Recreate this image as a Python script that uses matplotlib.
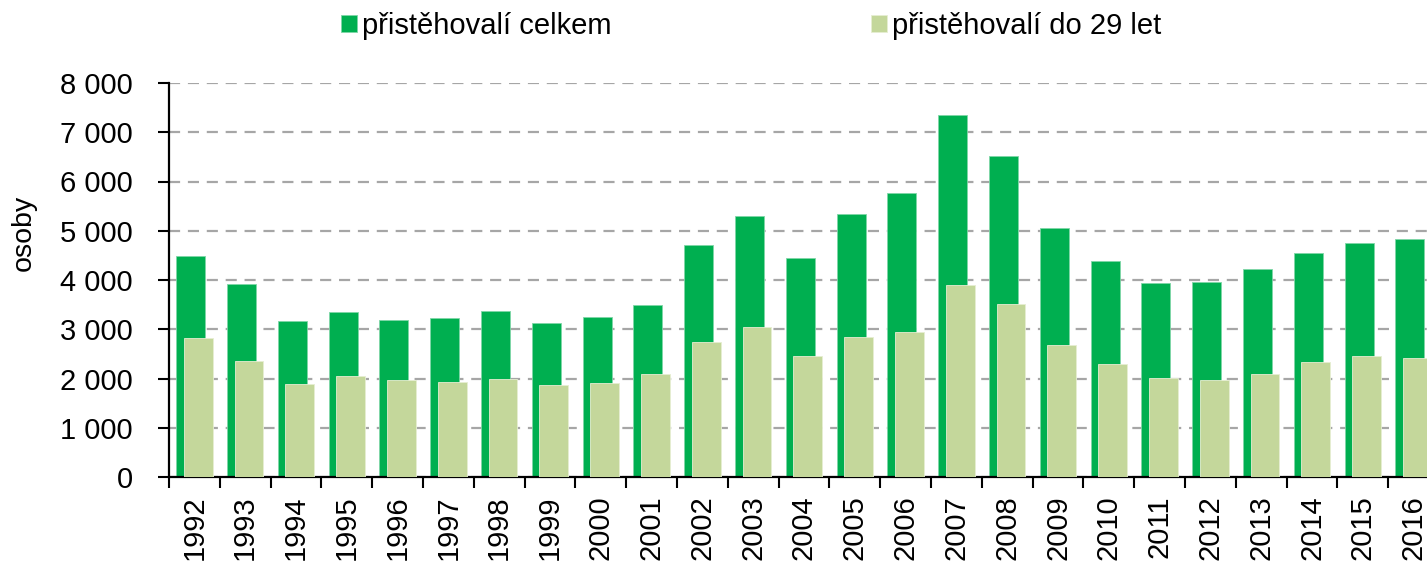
import numpy as np
import matplotlib
matplotlib.use("Agg")
import matplotlib.pyplot as plt
from matplotlib.ticker import FuncFormatter

# data
years = [str(y) for y in range(1992, 2017)]
celkem = [4480, 3915, 3170, 3360, 3190, 3220, 3375, 3130, 3255, 3500,
          4720, 5295, 4440, 5345, 5775, 7345, 6525, 5060,
          4390, 3935, 3950, 4225, 4545, 4760, 4830]
do29 = [2830, 2360, 1880, 2055, 1960, 1920, 2000, 1865, 1915, 2085,
        2745, 3050, 2455, 2850, 2935, 3890, 3510, 2690,
        2300, 2020, 1970, 2095, 2335, 2450, 2420]

labels = ["přistěhovalí celkem", "přistěhovalí do 29 let"]
dark = "#00AF50"
light = "#C4D79B"

plt.rcParams['font.family'] = ['Liberation Sans', 'DejaVu Sans']
fs = 21

fig = plt.figure(figsize=(14.27, 5.62), dpi=100)
ax = fig.add_axes([169 / 1427, 1 - 477 / 562, 1 - 169 / 1427, (477 - 83) / 562])

x = np.arange(len(years))
w = 0.57
b1 = ax.bar(x - 0.073, celkem, w, color=dark, edgecolor="#7fd7a7", linewidth=0.6, zorder=2, label=labels[0])
b2 = ax.bar(x + 0.075, do29, w, color=light, edgecolor="#e6eed2", linewidth=0.6, zorder=3, label=labels[1])

ax.set_yticks(range(0, 8001, 1000))
ax.yaxis.set_major_formatter(FuncFormatter(lambda v, p: f"{int(v):,}".replace(",", " ")))
ax.yaxis.grid(True, color="#A6A6A6", linestyle=(0, (5, 3.5)), linewidth=1.6, zorder=0)
ax.set_axisbelow(True)

# ticks between categories, labels in the middle
ax.set_xticks(np.arange(-0.5, len(years), 1), minor=False)
ax.set_xticklabels([])
ax.set_xticks(x, minor=True)
ax.set_xticklabels(years, minor=True, rotation=90, fontsize=fs)
ax.tick_params(axis="x", which="minor", length=0, pad=13)
ax.tick_params(axis="x", which="major", length=8, width=1.5, direction="out")
ax.tick_params(axis="y", length=8, width=1.5, labelsize=fs, pad=18)

# last category is cut by the right edge in the original
ax.set_ylim(0, 8000)
ax.set_xlim(-0.5, len(years) - 0.5 - 12 / 50.8)

for s in ["top", "right"]:
    ax.spines[s].set_visible(False)
for s in ["left", "bottom"]:
    ax.spines[s].set_linewidth(1.6)

ax.set_ylabel("osoby", fontsize=20.5)
ax.yaxis.set_label_coords(-0.105, 0.62)

fig.legend(handles=[b1, b2], labels=labels, loc="center left", bbox_to_anchor=(341 / 1427, 1 - 26 / 562),
           ncol=2, frameon=False, fontsize=21, handlelength=0.55, handleheight=0.55,
           handletextpad=0.17, columnspacing=8.9, borderpad=0, borderaxespad=0)

fig.savefig("out.png", dpi=100)
